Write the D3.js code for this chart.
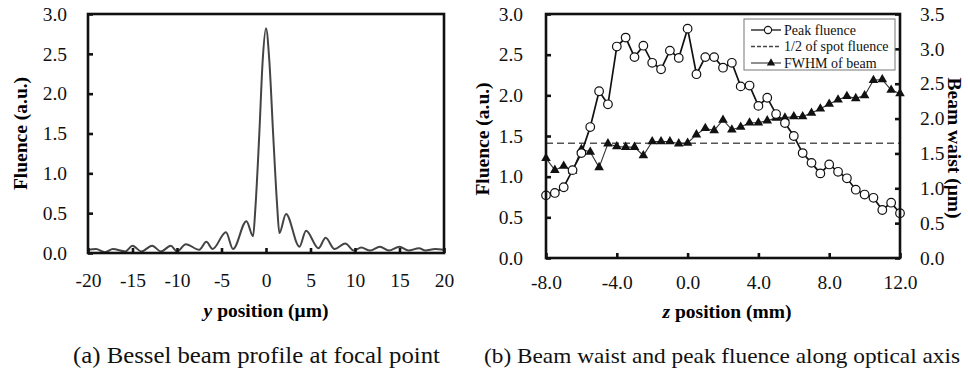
<!DOCTYPE html>
<html><head><meta charset="utf-8">
<script src="https://cdn.jsdelivr.net/npm/d3@7"></script>
<style>
html,body{margin:0;padding:0;background:#fff;overflow:hidden;}
svg{display:block;font-family:"Liberation Serif","Times New Roman",serif;}
</style></head>
<body>
<svg id="c" width="968" height="379"></svg>
<script>
// ---- Data: (a) Bessel beam profile ----
const yPosition = [-20,-19.1,-18.1,-17.2,-15.8,-15.0,-14.0,-12.8,-11.8,-10.7,-10.0,-9.0,-7.5,-6.7,-6.0,-4.5,-3.7,-2.2,-1.45,-1.2,-0.75,-0.37,0,0.37,0.8,1.25,1.5,2.25,3.75,4.5,5.9,6.7,7.7,8.9,9.9,10.7,11.7,12.8,13.8,15.0,16.0,17.2,17.9,19.0,20];
const profileFluence = [0.04,0.05,0.01,0.05,0.02,0.09,0.02,0.09,0.02,0.09,0.02,0.11,0.04,0.14,0.05,0.26,0.05,0.40,0.21,0.55,1.5,2.42,2.82,2.42,1.5,0.6,0.25,0.49,0.08,0.28,0.06,0.19,0.05,0.12,0.03,0.07,0.03,0.08,0.03,0.08,0.03,0.06,0.03,0.05,0.04];
const aXTicks = [-20,-15,-10,-5,0,5,10,15,20];
const aYTicks = [0,0.5,1.0,1.5,2.0,2.5,3.0];

// ---- Data: (b) along optical axis ----
const zPosition = [-8,-7.5,-7,-6.5,-6,-5.5,-5,-4.5,-4,-3.5,-3,-2.5,-2,-1.5,-1,-0.5,0,0.5,1,1.5,2,2.5,3,3.5,4,4.5,5,5.5,6,6.5,7,7.5,8,8.5,9,9.5,10,10.5,11,11.5,12];
const peakFluence = [0.77,0.80,0.87,1.08,1.29,1.61,2.05,1.89,2.60,2.71,2.47,2.61,2.40,2.32,2.55,2.46,2.82,2.26,2.47,2.47,2.34,2.40,2.11,2.12,1.87,1.97,1.77,1.66,1.50,1.29,1.17,1.04,1.15,1.06,0.98,0.84,0.78,0.74,0.59,0.68,0.55];
const fwhmBeam = [1.43,1.26,1.32,1.25,1.56,1.52,1.30,1.64,1.60,1.59,1.59,1.47,1.67,1.67,1.67,1.64,1.65,1.77,1.86,1.83,1.98,1.84,1.88,1.94,1.94,1.97,2.01,2.01,2.03,2.03,2.08,2.14,2.21,2.27,2.32,2.29,2.33,2.55,2.56,2.41,2.36];
const halfSpotFluence = 1.41;
const bXTicks = [-8,-4,0,4,8,12];
const bYTicks = [0,0.5,1.0,1.5,2.0,2.5,3.0];
const bY2Ticks = [0,0.5,1.0,1.5,2.0,2.5,3.0,3.5];
const legendLabels = ["Peak fluence","1/2 of spot fluence","FWHM of beam"];
const captions = ["(a) Bessel beam profile at focal point","(b) Beam waist and peak fluence along optical axis"];

const svg = d3.select("#c");
const TICKFS = 19.5, TITLEFS = 19.5;

function frame(g, x0, x1, y0, y1){
  g.append("rect").attr("x",x0).attr("y",y0).attr("width",x1-x0).attr("height",y1-y0)
   .attr("fill","none").attr("stroke","#111").attr("stroke-width",2.6);
}
function styleAxis(sel){
  sel.select(".domain").remove();
  sel.selectAll(".tick line").attr("stroke","#111").attr("stroke-width",2.6);
  sel.selectAll(".tick text").attr("fill","#111").style("font-size",TICKFS+"px")
     .style("font-family","Liberation Serif");
}

// ================= Chart (a) =================
{
  const x0=88,x1=444,y0=14,y1=253;
  const x = d3.scaleLinear().domain([-20,20]).range([x0,x1]);
  const y = d3.scaleLinear().domain([0,3]).range([y1,y0]);
  const g = svg.append("g");
  const line = d3.line().x((d,i)=>x(yPosition[i])).y(d=>y(d)).curve(d3.curveMonotoneX);
  g.append("path").datum(profileFluence).attr("d",line).attr("fill","none")
   .attr("stroke","#444").attr("stroke-width",2);
  const ax = g.append("g").attr("transform",`translate(0,${y1})`)
    .call(d3.axisBottom(x).tickValues(aXTicks).tickSizeInner(-5).tickSizeOuter(0).tickPadding(20).tickFormat(d=>String(d)));
  styleAxis(ax);
  const ay = g.append("g").attr("transform",`translate(${x0},0)`)
    .call(d3.axisLeft(y).tickValues(aYTicks).tickSizeInner(-5).tickSizeOuter(0).tickPadding(21).tickFormat(d=>d.toFixed(1)));
  styleAxis(ay);
  frame(g,x0,x1,y0,y1);
  const t = g.append("text").attr("x",(x0+x1)/2).attr("y",317).attr("text-anchor","middle")
    .style("font-size",TITLEFS+"px").style("font-weight","bold");
  t.append("tspan").style("font-style","italic").text("y");
  t.append("tspan").text(" position (μm)");
  g.append("text").attr("transform",`translate(20,${(y0+y1)/2}) rotate(-90)`).attr("dy","0.35em")
    .attr("text-anchor","middle").style("font-size",TITLEFS+"px").style("font-weight","bold")
    .text("Fluence (a.u.)");
}

// ================= Chart (b) =================
{
  const x0=546,x1=900,y0=14,y1=258;
  const x = d3.scaleLinear().domain([-8,12]).range([x0,x1]);
  const y = d3.scaleLinear().domain([0,3]).range([y1,y0]);
  const y2 = d3.scaleLinear().domain([0,3.5]).range([y1,y0]);
  const g = svg.append("g");

  g.append("line").attr("x1",x0).attr("x2",x1).attr("y1",y(halfSpotFluence)).attr("y2",y(halfSpotFluence))
   .attr("stroke","#555").attr("stroke-width",1.5).attr("stroke-dasharray","7,4");

  const lineF = d3.line().x((d,i)=>x(zPosition[i])).y(d=>y2(d));
  g.append("path").datum(fwhmBeam).attr("d",lineF).attr("fill","none").attr("stroke","#333").attr("stroke-width",1.1);
  const tri = d3.symbol().type(d3.symbolTriangle).size(40);
  g.selectAll("path.tri").data(fwhmBeam).join("path").attr("class","tri")
   .attr("transform",(d,i)=>`translate(${x(zPosition[i])},${y2(d)})`).attr("d",tri).attr("fill","#111");

  const lineP = d3.line().x((d,i)=>x(zPosition[i])).y(d=>y(d));
  g.append("path").datum(peakFluence).attr("d",lineP).attr("fill","none").attr("stroke","#111").attr("stroke-width",1.7);
  g.selectAll("circle.pk").data(peakFluence).join("circle").attr("class","pk")
   .attr("cx",(d,i)=>x(zPosition[i])).attr("cy",d=>y(d)).attr("r",4.3)
   .attr("fill","#fff").attr("stroke","#111").attr("stroke-width",1.2);

  const ax = g.append("g").attr("transform",`translate(0,${y1})`)
    .call(d3.axisBottom(x).tickValues(bXTicks).tickSizeInner(-5).tickSizeOuter(0).tickPadding(17).tickFormat(d=>d.toFixed(1)));
  styleAxis(ax);
  const ay = g.append("g").attr("transform",`translate(${x0},0)`)
    .call(d3.axisLeft(y).tickValues(bYTicks).tickSizeInner(-5).tickSizeOuter(0).tickPadding(23).tickFormat(d=>d.toFixed(1)));
  styleAxis(ay);
  const ay2 = g.append("g").attr("transform",`translate(${x1},0)`)
    .call(d3.axisRight(y2).tickValues(bY2Ticks).tickSizeInner(-5).tickSizeOuter(0).tickPadding(20).tickFormat(d=>d.toFixed(1)));
  styleAxis(ay2);
  frame(g,x0,x1,y0,y1);

  const lg = g.append("g");
  lg.append("rect").attr("x",744).attr("y",19).attr("width",151).attr("height",51)
    .attr("fill","#fff").attr("stroke","#777").attr("stroke-width",1);
  const rows=[30,46.5,63];
  lg.append("line").attr("x1",751).attr("x2",781).attr("y1",rows[0]).attr("y2",rows[0]).attr("stroke","#111").attr("stroke-width",1.3);
  lg.append("circle").attr("cx",768).attr("cy",rows[0]).attr("r",3.6).attr("fill","#fff").attr("stroke","#111").attr("stroke-width",1.1);
  lg.append("line").attr("x1",751).attr("x2",781).attr("y1",rows[1]).attr("y2",rows[1]).attr("stroke","#444").attr("stroke-width",1.4).attr("stroke-dasharray","4,2");
  lg.append("line").attr("x1",751).attr("x2",781).attr("y1",rows[2]).attr("y2",rows[2]).attr("stroke","#333").attr("stroke-width",1.1);
  lg.append("path").attr("transform",`translate(771,${rows[2]})`).attr("d",d3.symbol().type(d3.symbolTriangle).size(30)).attr("fill","#111");
  legendLabels.forEach((t,i)=>{
    lg.append("text").attr("x",784).attr("y",rows[i]).attr("dy","0.35em").style("font-size","14px").attr("fill","#111").text(t);
  });

  const t = g.append("text").attr("x",(x0+x1)/2+4).attr("y",318).attr("text-anchor","middle")
    .style("font-size",TITLEFS+"px").style("font-weight","bold");
  t.append("tspan").style("font-style","italic").text("z");
  t.append("tspan").text(" position (mm)");
  g.append("text").attr("transform",`translate(482,139) rotate(-90)`).attr("dy","0.35em")
    .attr("text-anchor","middle").style("font-size",TITLEFS+"px").style("font-weight","bold")
    .text("Fluence (a.u.)");
  g.append("text").attr("transform",`translate(955,148) rotate(90)`).attr("dy","0.35em")
    .attr("text-anchor","middle").style("font-size",TITLEFS+"px").style("font-weight","bold")
    .text("Beam waist (μm)");
}

// captions
svg.append("text").attr("x",73).attr("y",363).attr("textLength",367).attr("lengthAdjust","spacingAndGlyphs")
  .style("font-size","24px").attr("fill","#111").text(captions[0]);
svg.append("text").attr("x",484).attr("y",363).attr("textLength",476).attr("lengthAdjust","spacingAndGlyphs")
  .style("font-size","22px").attr("fill","#111").text(captions[1]);
</script>
</body></html>
